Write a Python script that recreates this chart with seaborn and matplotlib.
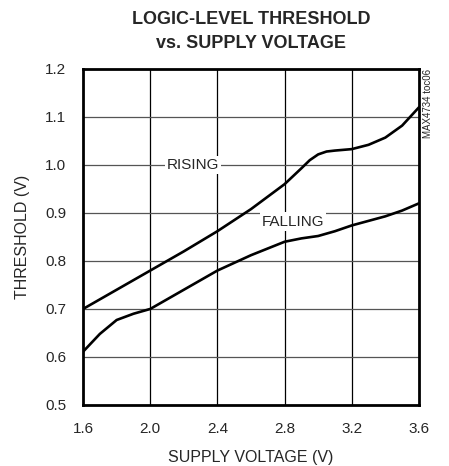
import matplotlib
matplotlib.use("Agg")
import matplotlib.pyplot as plt
import numpy as np
import pandas as pd
import seaborn as sns

# threshold curves
rising_v = [1.6, 1.8, 2.0, 2.2, 2.4, 2.6, 2.8, 2.9, 2.95, 3.0, 3.05, 3.1, 3.2, 3.3, 3.4, 3.5, 3.6]
rising_th = [0.700, 0.740, 0.780, 0.820, 0.862, 0.908, 0.960, 0.993, 1.010, 1.022, 1.028, 1.030, 1.033, 1.042, 1.057, 1.082, 1.120]

falling_v = [1.6, 1.7, 1.8, 1.9, 2.0, 2.2, 2.4, 2.6, 2.7, 2.8, 2.9, 3.0, 3.1, 3.2, 3.4, 3.5, 3.6]
falling_th = [0.611, 0.648, 0.677, 0.690, 0.700, 0.740, 0.780, 0.812, 0.826, 0.840, 0.847, 0.852, 0.862, 0.874, 0.893, 0.905, 0.920]

x_ticks = [1.6, 2.0, 2.4, 2.8, 3.2, 3.6]
y_ticks = [0.5, 0.6, 0.7, 0.8, 0.9, 1.0, 1.1, 1.2]

sns.set_style("white")
plt.rcParams["font.family"] = ["Liberation Sans", "DejaVu Sans"]

df = pd.concat([
    pd.DataFrame({"v": rising_v, "th": rising_th, "edge": "RISING"}),
    pd.DataFrame({"v": falling_v, "th": falling_th, "edge": "FALLING"}),
])

fig = plt.figure(figsize=(4.49, 4.66), dpi=100)
ax = fig.add_axes([0.185, 0.131, 0.748, 0.721])

for x in x_ticks[1:-1]:
    ax.axvline(x, color="black", lw=0.9, zorder=1)
for y in y_ticks[1:-1]:
    ax.axhline(y, color="#555555", lw=0.9, zorder=1)

sns.lineplot(data=df, x="v", y="th", units="edge", estimator=None,
             color="black", lw=1.9, ax=ax, zorder=3, sort=False)

ax.set_xlim(1.6, 3.6)
ax.set_ylim(0.5, 1.2)
ax.set_xticks(x_ticks)
ax.set_yticks(y_ticks)
ax.set_xticklabels([f"{v:.1f}" for v in x_ticks])
ax.set_yticklabels([f"{v:.1f}" for v in y_ticks])
ax.tick_params(length=0, labelsize=11)
ax.tick_params(axis="x", pad=12)
ax.tick_params(axis="y", pad=12)
for s in ax.spines.values():
    s.set_linewidth(2)
    s.set_color("black")

ax.set_xlabel("SUPPLY VOLTAGE (V)", fontsize=11.5, labelpad=10)
ax.set_ylabel("THRESHOLD (V)", fontsize=11.5, labelpad=11)
ax.set_title("LOGIC-LEVEL THRESHOLD\nvs. SUPPLY VOLTAGE", fontsize=13,
             fontweight="bold", pad=15, linespacing=1.55)

box = dict(facecolor="white", edgecolor="none", pad=1.5)
ax.text(2.255, 1.0, "RISING", ha="center", va="center", fontsize=11,
        bbox=box, zorder=2)
ax.text(2.85, 0.882, "FALLING", ha="center", va="center", fontsize=11,
        bbox=box, zorder=2)

fig.text(0.953, 0.852, "MAX4734 toc06", rotation=90, ha="center", va="top",
         fontsize=7)

fig.savefig("out.png", dpi=100)
